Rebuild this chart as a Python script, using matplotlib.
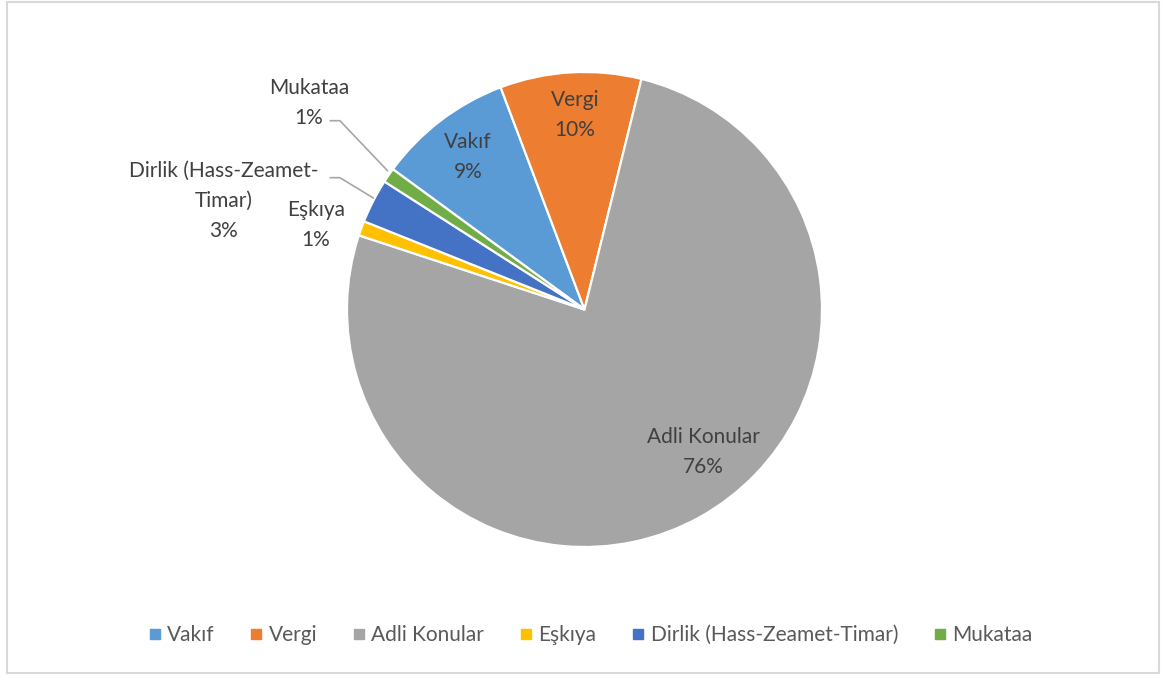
import matplotlib.pyplot as plt
from matplotlib.patches import Rectangle
from matplotlib.lines import Line2D

plt.rcParams['font.family'] = ['Lato', 'DejaVu Sans']

# data
categories = ["Vakıf", "Vergi", "Adli Konular", "Eşkıya", "Dirlik (Hass-Zeamet-Timar)", "Mukataa"]
values = [9.2, 9.6, 76.2, 1.0, 3.0, 1.0]
colors = ["#5B9BD5", "#ED7D31", "#A5A5A5", "#FFC000", "#4472C4", "#70AD47"]
label_texts = ["Vakıf\n9%", "Vergi\n10%", "Adli Konular\n76%", "Eşkıya\n1%",
               "Dirlik (Hass-Zeamet-\nTimar)\n3%", "Mukataa\n1%"]

# label placement (pie radius units) and leader lines for the small slices
label_pos = [(-0.49, 0.64), (-0.04, 0.82), (0.50, -0.60), (-1.13, 0.355),
             (-1.52, 0.457), (-1.16, 0.87)]
leaders = {4: [(-1.07, 0.555), (-1.03, 0.555), (-0.89, 0.47)],
           5: [(-1.07, 0.795), (-1.03, 0.795), (-0.83, 0.585)]}

W, H = 1163, 675
fig = plt.figure(figsize=(W / 100, H / 100), dpi=100)

# chart border
fig.patches.append(Rectangle((7 / W, 2 / H), 1152 / W, 671 / H, transform=fig.transFigure,
                             fill=False, edgecolor="#D9D9D9", linewidth=1.5))

cx, cy, r = 584.5, 675 - 309.5, 237.5
ax = fig.add_axes([(cx - r) / W, (cy - r) / H, 2 * r / W, 2 * r / H])
wedges, _ = ax.pie(values, colors=colors, startangle=143.8, counterclock=False, radius=1,
                   wedgeprops=dict(edgecolor="white", linewidth=1.6))
ax.set_xlim(-1, 1)
ax.set_ylim(-1, 1)
ax.set_aspect("equal")
ax.axis("off")

# one text per line, 30 px apart, block centred on the label position
step = 30 / r
for txt, (x, y) in zip(label_texts, label_pos):
    lines = txt.split("\n")
    top = y + step * (len(lines) - 1) / 2
    for k, line in enumerate(lines):
        ax.text(x, top - k * step, line, ha="center", va="center", fontsize=15,
                color="#404040", clip_on=False)
for pts in leaders.values():
    xs, ys = zip(*pts)
    ax.plot(xs, ys, color="#A6A6A6", linewidth=1.2, clip_on=False)

handles = [Line2D([], [], marker="s", linestyle="", markersize=6.5, color=c) for c in colors]
fig.legend(handles, categories, loc="center", bbox_to_anchor=(0.5077, 1 - 635 / H), ncol=6,
           frameon=False, fontsize=15, labelcolor="#595959", handlelength=0.6,
           handletextpad=0.3, columnspacing=1.7)

fig.savefig("out.png", dpi=100)
